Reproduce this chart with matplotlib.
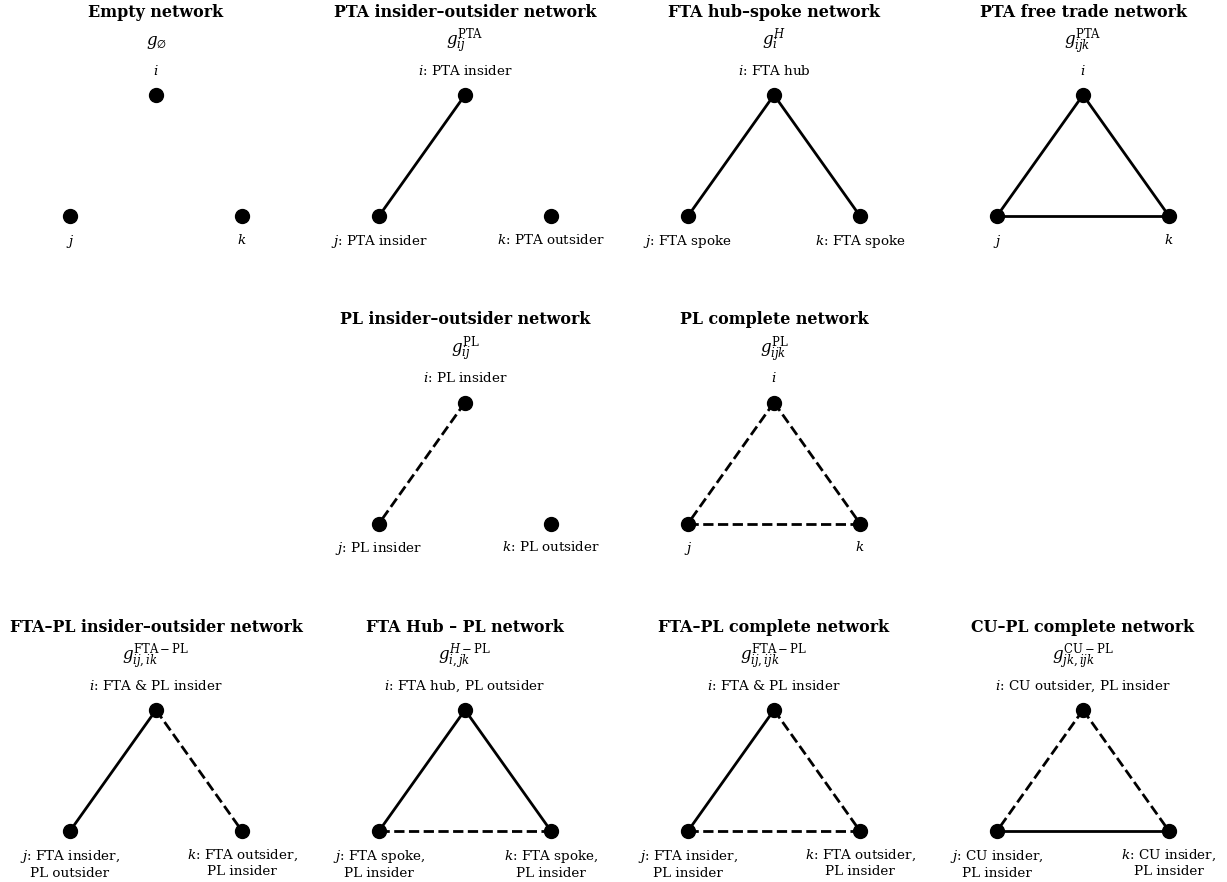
import matplotlib
matplotlib.use("Agg")
import matplotlib.pyplot as plt

plt.rcParams["font.family"] = "DejaVu Serif"
plt.rcParams["mathtext.fontset"] = "dejavuserif"

# panel grid slots (row, col) for each network
slots = [(0, 0), (0, 1), (0, 2), (0, 3), (1, 1), (1, 2), (2, 0), (2, 1), (2, 2), (2, 3)]

titles = [
    "Empty network",
    "PTA insider–outsider network",
    "FTA hub–spoke network",
    "PTA free trade network",
    "PL insider–outsider network",
    "PL complete network",
    "FTA–PL insider–outsider network",
    "FTA Hub – PL network",
    "FTA–PL complete network",
    "CU–PL complete network",
]

net_symbols = [
    r"$g_{\emptyset}$",
    r"$g_{ij}^{\mathrm{PTA}}$",
    r"$g_{i}^{H}$",
    r"$g_{ijk}^{\mathrm{PTA}}$",
    r"$g_{ij}^{\mathrm{PL}}$",
    r"$g_{ijk}^{\mathrm{PL}}$",
    r"$g_{ij,ik}^{\mathrm{FTA-PL}}$",
    r"$g_{i,jk}^{H-\mathrm{PL}}$",
    r"$g_{ij,ijk}^{\mathrm{FTA-PL}}$",
    r"$g_{jk,ijk}^{\mathrm{CU-PL}}$",
]

# role descriptions for nodes i, j, k ("" -> bare node name)
roles_i = ["", "PTA insider", "FTA hub", "", "PL insider", "",
           "FTA & PL insider", "FTA hub, PL outsider", "FTA & PL insider",
           "CU outsider, PL insider"]
roles_j = ["", "PTA insider", "FTA spoke", "", "PL insider", "",
           "FTA insider,\nPL outsider", "FTA spoke,\nPL insider",
           "FTA insider,\nPL insider", "CU insider,\nPL insider"]
roles_k = ["", "PTA outsider", "FTA spoke", "", "PL outsider", "",
           "FTA outsider,\nPL insider", "FTA spoke,\nPL insider",
           "FTA outsider,\nPL insider", "CU insider,\nPL insider"]

# links per network: (a, b, kind) with kind "fta" (solid) or "pl" (dashed)
links = [
    [],
    [("i", "j", "fta")],
    [("i", "j", "fta"), ("i", "k", "fta")],
    [("i", "j", "fta"), ("i", "k", "fta"), ("j", "k", "fta")],
    [("i", "j", "pl")],
    [("i", "j", "pl"), ("i", "k", "pl"), ("j", "k", "pl")],
    [("i", "j", "fta"), ("i", "k", "pl")],
    [("i", "j", "fta"), ("i", "k", "fta"), ("j", "k", "pl")],
    [("i", "j", "fta"), ("i", "k", "pl"), ("j", "k", "pl")],
    [("i", "j", "pl"), ("i", "k", "pl"), ("j", "k", "fta")],
]

pos = {"i": (0.5, 1.0), "j": (0.0, 0.0), "k": (1.0, 0.0)}
style = {"fta": "-", "pl": "--"}

W, H = 1227, 882
fig = plt.figure(figsize=(W / 100, H / 100), dpi=100)


def node_label(name, role):
    return f"${name}$" if not role else f"${name}$: {role}"


for n, (r, c) in enumerate(slots):
    jx = 70 + 309 * c
    iy = 95 + 307.5 * r
    ax = fig.add_axes([jx / W, 1 - (iy + 121) / H, 172 / W, 121 / H])
    ax.set_xlim(0, 1)
    ax.set_ylim(0, 1)
    ax.axis("off")

    for a, b, kind in links[n]:
        ax.plot([pos[a][0], pos[b][0]], [pos[a][1], pos[b][1]],
                color="black", lw=2, ls=style[kind], clip_on=False, zorder=1)
    for name in "ijk":
        ax.plot(*pos[name], "o", color="black", ms=10, clip_on=False, zorder=2)

    xi, yi = pos["i"]
    ax.annotate(titles[n], (xi, yi), xytext=(0, 56.5), textcoords="offset points",
                ha="center", va="baseline", fontsize=11.45, fontweight="bold")
    ax.annotate(net_symbols[n], (xi, yi), xytext=(0, 36), textcoords="offset points",
                ha="center", va="baseline", fontsize=12)
    ax.annotate(node_label("i", roles_i[n]), (xi, yi), xytext=(0, 14.5),
                textcoords="offset points", ha="center", va="baseline", fontsize=9.7)
    for name, roles in (("j", roles_j), ("k", roles_k)):
        ax.annotate(node_label(name, roles[n]), pos[name], xytext=(0, -12),
                    textcoords="offset points", ha="center", va="top",
                    fontsize=9.7, multialignment="center")

fig.savefig("out.png", dpi=100)
